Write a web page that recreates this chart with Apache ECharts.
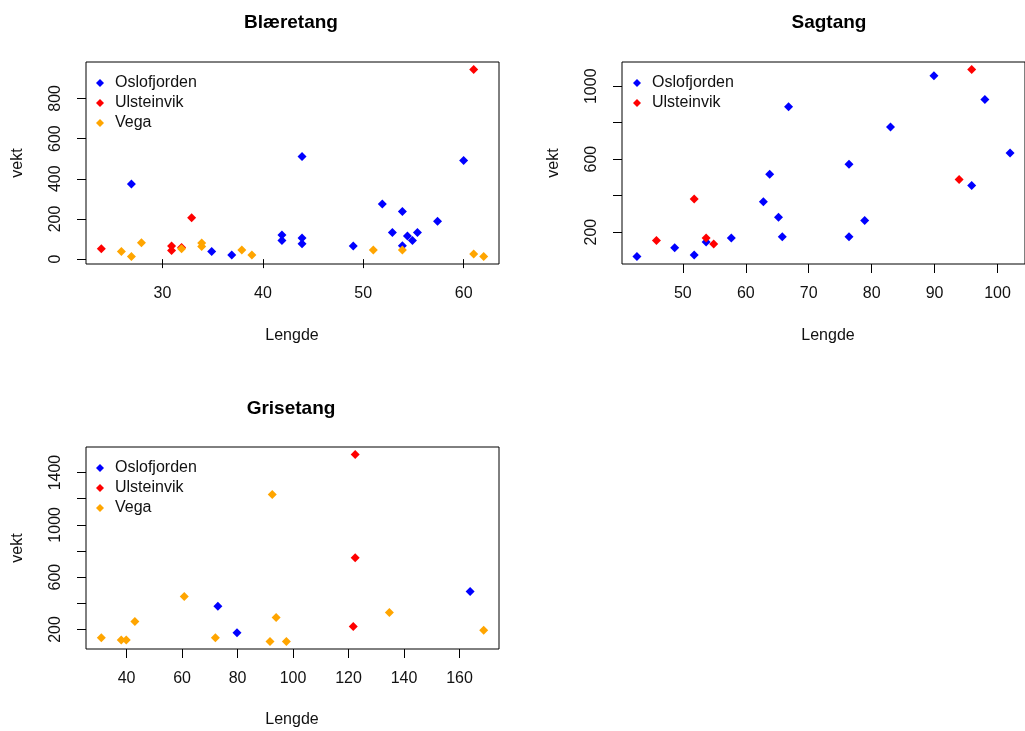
<!DOCTYPE html>
<html>
<head>
<meta charset="utf-8">
<script src="https://cdn.jsdelivr.net/npm/echarts@6/dist/echarts.min.js"></script>
<style>
html,body{margin:0;padding:0;background:#fff;}
#chart{width:1025px;height:731px;}
</style>
</head>
<body>
<div id="chart"></div>
<script>
// ---------- DATA ----------
// Blæretang
const blaOsloX = [26.9, 34.9, 36.9, 41.9, 41.9, 43.9, 43.9, 43.9, 49.0, 51.9, 52.9, 53.9, 53.9, 54.4, 54.9, 55.4, 57.4, 60.0];
const blaOsloY = [374, 38, 20, 120, 93, 511, 105, 76, 65, 274, 133, 237, 66, 115, 93, 133, 188, 491];
const blaUlstX = [23.9, 30.9, 30.9, 31.9, 32.9, 61.0];
const blaUlstY = [52, 65, 43, 58, 206, 944];
const blaVegaX = [25.9, 26.9, 27.9, 31.9, 33.9, 33.9, 37.9, 38.9, 51.0, 53.9, 61.0, 62.0];
const blaVegaY = [38, 13, 81, 52, 80, 63, 45, 20, 45, 45, 25, 13];
// Sagtang
const sagOsloX = [89.9, 66.8, 98.0, 83.0, 76.4, 102.0, 63.8, 62.8, 65.2, 95.9, 65.8, 76.4, 78.9, 57.7, 53.7, 48.7, 51.8, 42.7];
const sagOsloY = [1057, 887, 927, 777, 572, 634, 517, 367, 282, 455, 174, 174, 264, 167, 145, 114, 74, 66];
const sagUlstX = [95.9, 93.9, 51.8, 45.8, 53.7, 54.9];
const sagUlstY = [1092, 489, 381, 154, 167, 134];
// Grisetang
const griOsloX = [72.9, 79.8, 163.8];
const griOsloY = [378, 175, 491];
const griUlstX = [122.4, 122.4, 121.7];
const griUlstY = [1538, 748, 223];
const griVegaX = [30.9, 38.1, 39.9, 43.0, 60.8, 72.0, 92.5, 93.9, 91.7, 97.6, 134.7, 168.7];
const griVegaY = [136, 119, 119, 261, 452, 136, 1232, 292, 108, 108, 330, 195];

// Axis ticks / labels
const blaXTicks = [30, 40, 50, 60];
const blaYTicks = [0, 200, 400, 600, 800];
const blaYLabels = [0, 200, 400, 600, 800];
const sagXTicks = [50, 60, 70, 80, 90, 100];
const sagYTicks = [200, 400, 600, 800, 1000];
const sagYLabels = [200, 600, 1000];
const griXTicks = [40, 60, 80, 100, 120, 140, 160];
const griYTicks = [200, 400, 600, 800, 1000, 1200, 1400];
const griYLabels = [200, 600, 1000, 1400];

const titles = ['Blæretang', 'Sagtang', 'Grisetang'];
const groups = ['Oslofjorden', 'Ulsteinvik', 'Vega'];
const xName = 'Lengde';
const yName = 'vekt';

// ---------- BUILD ----------
const FONT = 'Liberation Sans, Arial, sans-serif';
const COL = {Oslofjorden: '#0000ff', Ulsteinvik: '#ff0000', Vega: '#ffa500'};
const TXT = '#111';
const plain = v => String(Math.round(v));

function zip(xs, ys) { return xs.map((x, i) => [x, ys[i]]); }
function rlim(arrs) {
  const all = [].concat(...arrs);
  const mn = Math.min(...all), mx = Math.max(...all);
  const p = 0.04 * (mx - mn);
  return [mn - p, mx + p];
}

const panels = [
  {grid: {left: 86, top: 62, width: 413, height: 202},
   xs: [blaOsloX, blaUlstX, blaVegaX], ys: [blaOsloY, blaUlstY, blaVegaY],
   names: groups, xt: blaXTicks, yt: blaYTicks, yl: blaYLabels},
  {grid: {left: 622, top: 62, width: 414, height: 202},
   xs: [sagOsloX, sagUlstX], ys: [sagOsloY, sagUlstY],
   names: groups.slice(0, 2), xt: sagXTicks, yt: sagYTicks, yl: sagYLabels},
  {grid: {left: 86, top: 447, width: 413, height: 202},
   xs: [griOsloX, griUlstX, griVegaX], ys: [griOsloY, griUlstY, griVegaY],
   names: groups, xt: griXTicks, yt: griYTicks, yl: griYLabels}
];

const grid = [], xAxis = [], yAxis = [], series = [], legend = [];
const legendPos = [{left: 96, top: 74}, {left: 633, top: 74}, {left: 96, top: 459}];

panels.forEach((p, i) => {
  grid.push(Object.assign({show: true, borderColor: '#000', borderWidth: 1, backgroundColor: '#fff', containLabel: false}, p.grid));
  const xl = rlim(p.xs), yl = rlim(p.ys);
  xAxis.push({
    type: 'value', gridIndex: i, min: xl[0], max: xl[1],
    axisLine: {show: false},
    splitLine: {show: false},
    axisTick: {show: true, length: 9, lineStyle: {color: '#000'}, customValues: p.xt},
    axisLabel: {show: true, margin: 22, fontSize: 16, fontFamily: FONT, color: TXT, customValues: p.xt, formatter: plain}
  });
  yAxis.push({
    type: 'value', gridIndex: i, min: yl[0], max: yl[1],
    axisLine: {show: false},
    splitLine: {show: false},
    axisTick: {show: true, length: 9, lineStyle: {color: '#000'}, customValues: p.yt},
    axisLabel: {show: true, rotate: 90, margin: 22, fontSize: 16, fontFamily: FONT, color: TXT, customValues: p.yl, formatter: plain}
  });
  p.names.forEach((n, k) => {
    series.push({
      type: 'scatter', name: n, xAxisIndex: i, yAxisIndex: i,
      data: zip(p.xs[k], p.ys[k]),
      symbol: 'diamond', symbolSize: 9,
      itemStyle: {color: COL[n], opacity: 1},
      emphasis: {disabled: true}
    });
  });
  legend.push({
    data: p.names.map(n => ({name: n, icon: 'diamond'})),
    orient: 'vertical', left: legendPos[i].left, top: legendPos[i].top + 1,
    itemWidth: 8, itemHeight: 8, itemGap: 4, padding: 0,
    selectedMode: false,
    textStyle: {fontSize: 16, fontFamily: FONT, color: TXT, lineHeight: 16, padding: [0, 0, 0, 6]}
  });
});

function txt(x, y, s, opts) {
  return {
    type: 'text', x: x, y: y,
    style: Object.assign({text: s, fontSize: 16, fontFamily: FONT, fill: TXT, align: 'center', verticalAlign: 'middle'}, opts && opts.style || {}),
    rotation: opts && opts.rotation || 0
  };
}

const graphic = [
  txt(291, 23, titles[0], {style: {fontSize: 19, fontWeight: 'bold', fill: '#000'}}),
  txt(829, 23, titles[1], {style: {fontSize: 19, fontWeight: 'bold', fill: '#000'}}),
  txt(291, 409, titles[2], {style: {fontSize: 19, fontWeight: 'bold', fill: '#000'}}),
  txt(292, 336, xName),
  txt(828, 336, xName),
  txt(292, 720, xName),
  txt(18, 163, yName, {rotation: Math.PI / 2}),
  txt(554, 163, yName, {rotation: Math.PI / 2}),
  txt(18, 548, yName, {rotation: Math.PI / 2})
];

const chart = echarts.init(document.getElementById('chart'), null, {renderer: 'canvas'});
chart.setOption({
  backgroundColor: '#fff',
  animation: false,
  grid, xAxis, yAxis, series, legend, graphic
});
</script>
</body>
</html>
